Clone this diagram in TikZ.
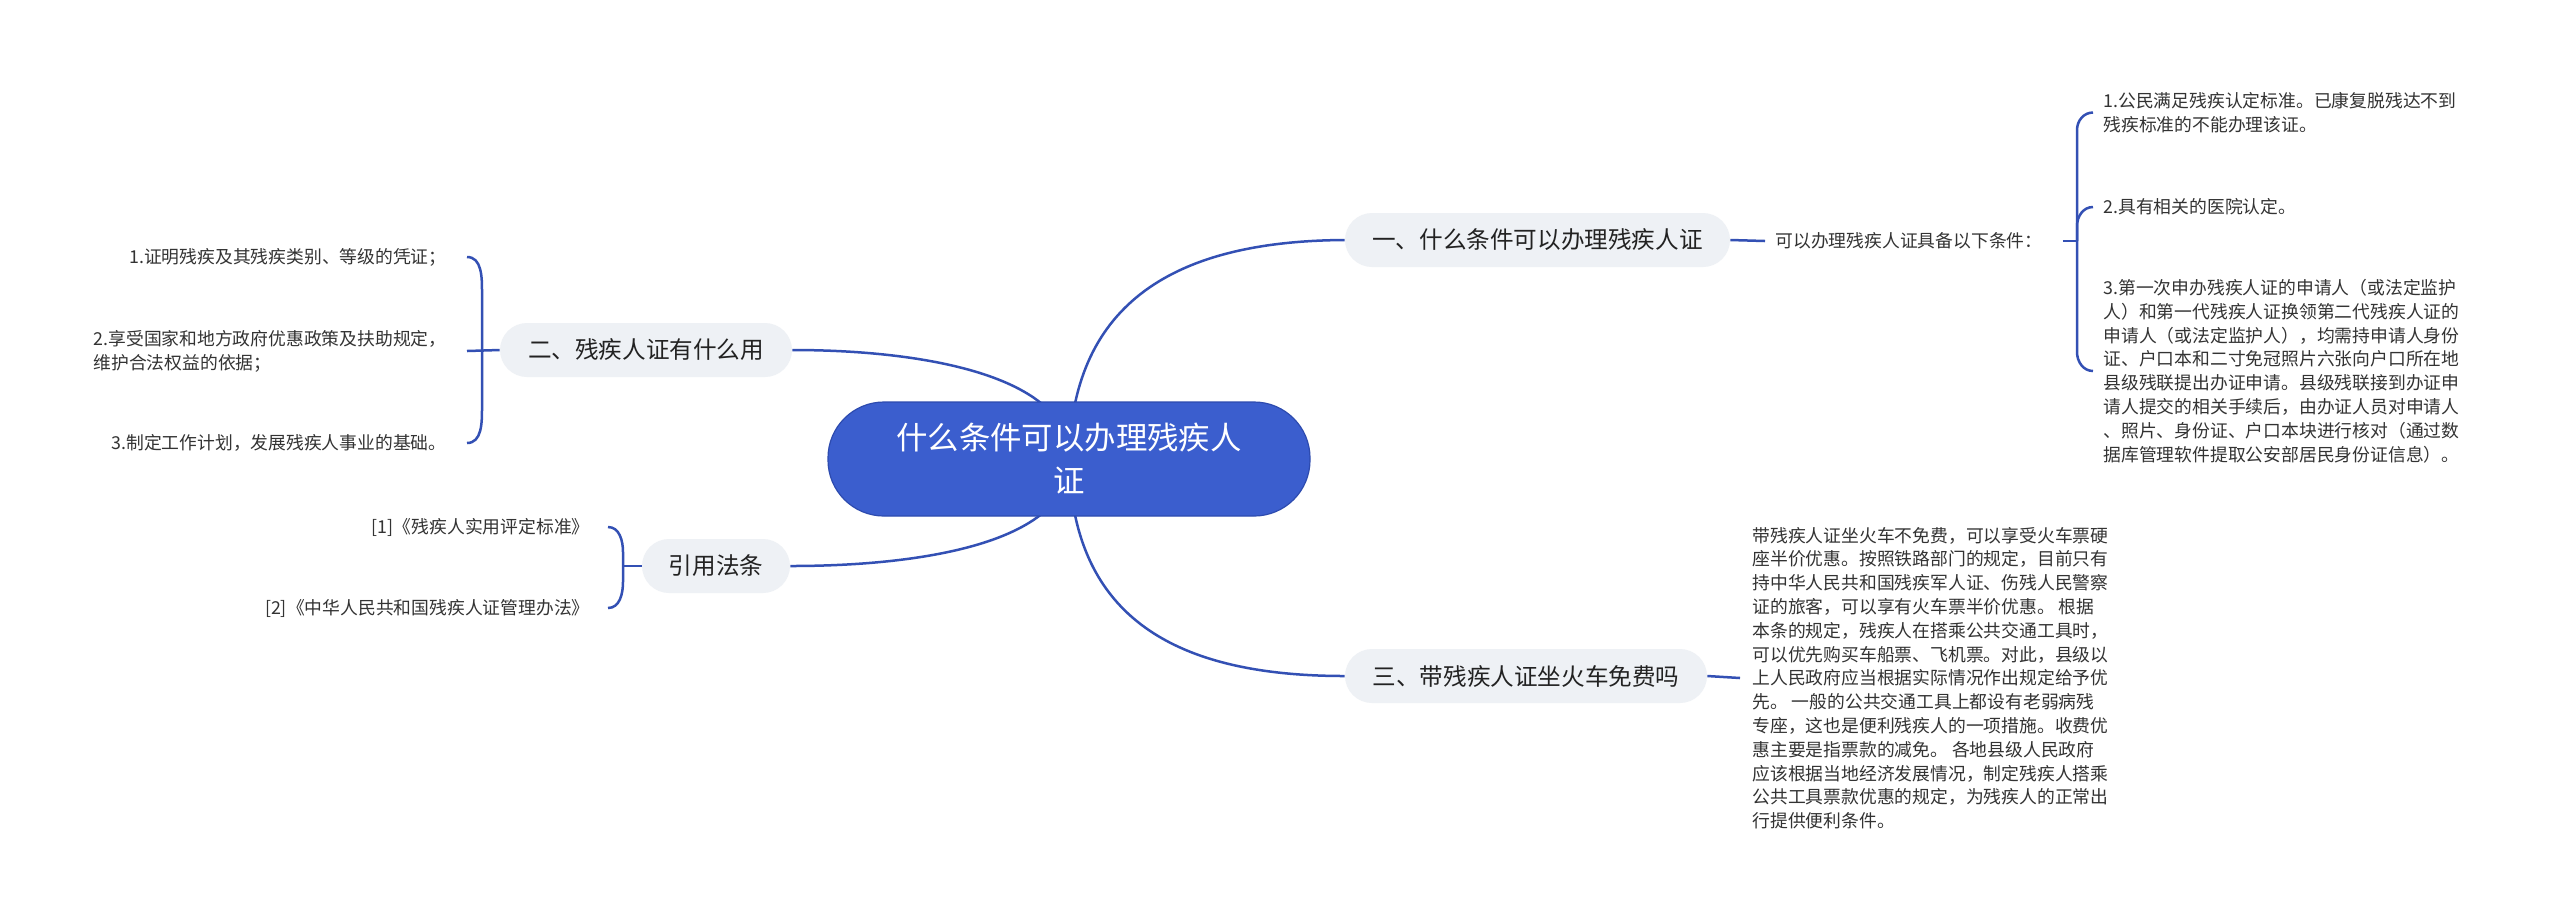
\documentclass[tikz,border=0pt]{standalone}
\usepackage{fontspec}
\setmainfont{Noto Sans CJK SC}
\usetikzlibrary{backgrounds}
\definecolor{lineblue}{RGB}{51,80,180}
\definecolor{rootblue}{RGB}{59,94,206}
\definecolor{rootedge}{RGB}{45,75,175}
\definecolor{nodegrey}{RGB}{238,241,245}
\definecolor{txt}{RGB}{34,34,34}
\definecolor{smalltxt}{RGB}{51,51,51}
\begin{document}
\begin{tikzpicture}[x=0.5pt,y=-0.5pt,
  conn/.style={draw=lineblue,line width=1.25pt},
  rootbox/.style={fill=rootblue,draw=rootedge,line width=0.6pt,rounded corners=28pt,minimum width=241pt,minimum height=57pt,inner sep=0pt,text=white,align=center,font=\fontsize{15.7pt}{21.5pt}\selectfont},
  branchbox/.style={fill=nodegrey,rounded corners=13.5pt,minimum height=27pt,inner sep=0pt,text=txt,font=\fontsize{11.8pt}{14pt}\selectfont},
  leaf/.style={inner sep=0pt,text=smalltxt,align=left,font=\fontsize{8.9pt}{11.9pt}\selectfont},
]
\useasboundingbox (0,0) rectangle (2560,918);

% root
\node[rootbox] (root) at (1069,459) {什么条件可以办理残疾人\\证};

% branch 1
\node[branchbox,minimum width=192.5pt] (b1) at (1537.5,240) {一、什么条件可以办理残疾人证};
\node[leaf,anchor=west] (b1t) at (1775,241) {可以办理残疾人证具备以下条件：};
\node[leaf,anchor=west] (r1) at (2103,112.5) {1.公民满足残疾认定标准。已康复脱残达不到\\残疾标准的不能办理该证。};
\node[leaf,anchor=west] (r2) at (2103,207) {2.具有相关的医院认定。};
\node[leaf,anchor=west] (r3) at (2103,371) {3.第一次申办残疾人证的申请人（或法定监护\\人）和第一代残疾人证换领第二代残疾人证的\\申请人（或法定监护人），均需持申请人身份\\证、户口本和二寸免冠照片六张向户口所在地\\县级残联提出办证申请。县级残联接到办证申\\请人提交的相关手续后，由办证人员对申请人\\、照片、身份证、户口本块进行核对（通过数\\据库管理软件提取公安部居民身份证信息）。};

% branch 2
\node[branchbox,minimum width=146pt] (b2) at (646,350) {二、残疾人证有什么用};
\node[leaf,anchor=east] (l1) at (447,257) {1.证明残疾及其残疾类别、等级的凭证；};
\node[leaf,anchor=east] (l2) at (447,351) {2.享受国家和地方政府优惠政策及扶助规定，\\维护合法权益的依据；};
\node[leaf,anchor=east] (l3) at (447,443) {3.制定工作计划，发展残疾人事业的基础。};

% branch 3
\node[branchbox,minimum width=74pt] (b3) at (716,566) {引用法条};
\node[leaf,anchor=east] (c1) at (590,527) {[1]《残疾人实用评定标准》};
\node[leaf,anchor=east] (c2) at (590,608) {[2]《中华人民共和国残疾人证管理办法》};

% branch 4
\node[branchbox,minimum width=181pt] (b4) at (1526,676) {三、带残疾人证坐火车免费吗};
\node[leaf,anchor=west] (b4t) at (1752,678) {带残疾人证坐火车不免费，可以享受火车票硬\\座半价优惠。按照铁路部门的规定，目前只有\\持中华人民共和国残疾军人证、伤残人民警察\\证的旅客，可以享有火车票半价优惠。 根据\\本条的规定，残疾人在搭乘公共交通工具时，\\可以优先购买车船票、飞机票。对此，县级以\\上人民政府应当根据实际情况作出规定给予优\\先。 一般的公共交通工具上都设有老弱病残\\专座，这也是便利残疾人的一项措施。收费优\\惠主要是指票款的减免。 各地县级人民政府\\应该根据当地经济发展情况，制定残疾人搭乘\\公共工具票款优惠的规定，为残疾人的正常出\\行提供便利条件。};

\coordinate (rbk) at (2077,241);
\coordinate (lbk) at (482,350);
\coordinate (cbk) at (623,566);

\begin{pgfonlayer}{background}
\fill[white] (0,0) rectangle (2560,918);
% root connectors
\draw[conn] (root.center) .. controls (1072,310) and (1165,241) .. (b1.west);
\draw[conn] (root.center) .. controls (1072,610) and (1165,676) .. (b4.west);
\draw[conn] (root.center) .. controls (1072,378) and (930,350) .. (b2.east);
\draw[conn] (root.center) .. controls (1072,540) and (930,566) .. (b3.east);
\end{pgfonlayer}

% branch 1 stubs and bracket
\draw[conn] (b1.east) -- ([xshift=-5pt]b1t.west);
\draw[conn] ([xshift=10pt]b1t.east) -- (rbk);
\draw[conn] ([xshift=-5pt]r1.west) to[out=180,in=90] (2077,130) -- (2077,352) to[out=-90,in=180] ([xshift=-5pt]r3.west);
\draw[conn] (rbk) -- (2077,226) to[out=90,in=180] ([xshift=-5pt]r2.west);

% branch 2 bracket
\draw[conn] ([xshift=10pt]l1.east) to[out=0,in=90] (482,292) -- (482,408) to[out=-90,in=0] ([xshift=10pt]l3.east);
\draw[conn] ([xshift=10pt]l2.east) -- (b2.west);

% branch 3 bracket
\draw[conn] ([xshift=9pt]c1.east) to[out=0,in=90] (623,552) -- (623,582) to[out=-90,in=0] ([xshift=9pt]c2.east);
\draw[conn] (cbk) -- (b3.west);

% branch 4 stub
\draw[conn] (b4.east) -- ([xshift=-6pt]b4t.west);
\end{tikzpicture}
\end{document}
